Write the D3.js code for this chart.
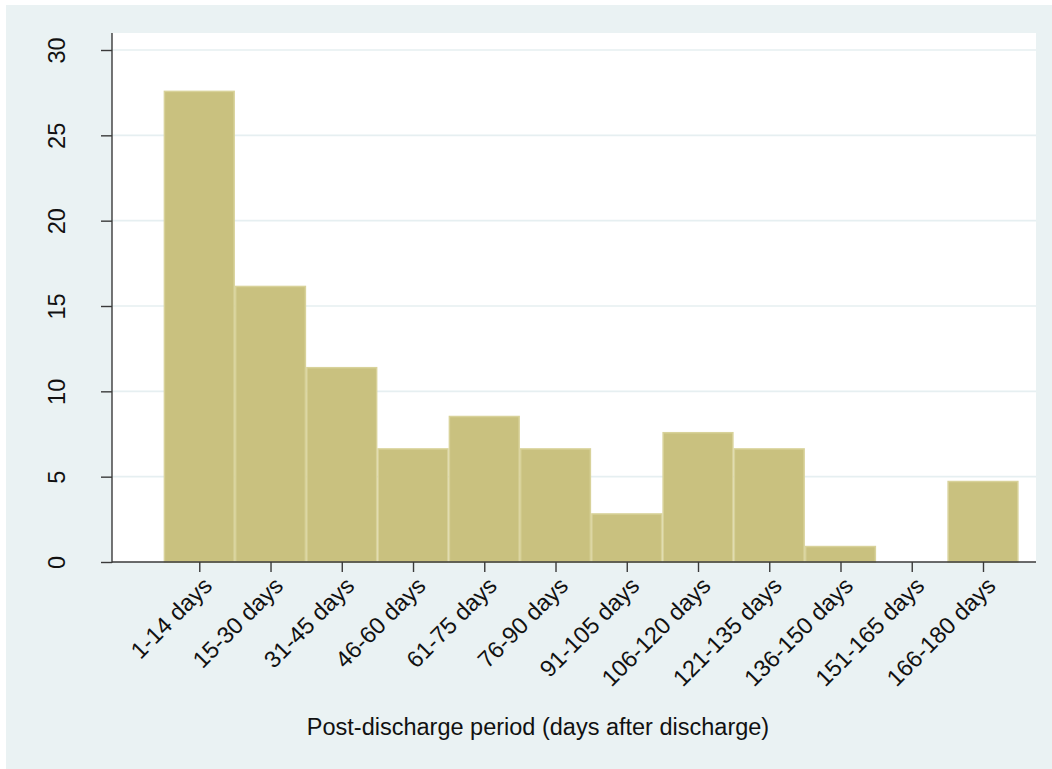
<!DOCTYPE html>
<html>
<head>
<meta charset="utf-8">
<script src="https://cdn.jsdelivr.net/npm/d3@7"></script>
<style>
  html, body { margin: 0; padding: 0; background: #ffffff; }
  svg { display: block; }
  text { font-family: "Liberation Sans", Arial, Helvetica, sans-serif; fill: #111; }
</style>
</head>
<body>
<svg id="chart" width="1052" height="769"></svg>
<script>
const categories = ["1-14 days","15-30 days","31-45 days","46-60 days","61-75 days","76-90 days",
  "91-105 days","106-120 days","121-135 days","136-150 days","151-165 days","166-180 days"];
const percents = [27.62, 16.19, 11.43, 6.67, 8.57, 6.67, 2.86, 7.62, 6.67, 0.95, 0, 4.76];
const yTicks = [0, 5, 10, 15, 20, 25, 30];
const xTitle = "Post-discharge period (days after discharge)";

const svg = d3.select("#chart");
const W = 1052, H = 769;
const plot = { left: 112, right: 1036, top: 33, bottom: 562 };

// outer graph region
svg.append("rect").attr("x", 6).attr("y", 5).attr("width", W - 6).attr("height", H - 5)
  .attr("fill", "#eaf2f3");
// plot region
svg.append("rect").attr("x", plot.left).attr("y", plot.top)
  .attr("width", plot.right - plot.left).attr("height", plot.bottom - plot.top)
  .attr("fill", "#ffffff");

const x = d3.scaleLinear().domain([-1.225, 11.744]).range([plot.left, plot.right]);
const y = d3.scaleLinear().domain([0, 30]).range([plot.bottom, 50]);

// gridlines
svg.append("g").selectAll("line").data(yTicks.filter(d => d > 0)).join("line")
  .attr("x1", plot.left).attr("x2", plot.right)
  .attr("y1", d => y(d)).attr("y2", d => y(d))
  .attr("stroke", "#e6eff1").attr("stroke-width", 1.6);

// bars
svg.append("g").selectAll("rect").data(percents.map((v, i) => ({ v, i })).filter(d => d.v > 0)).join("rect")
  .attr("x", d => x(d.i - 0.5) + 0.75)
  .attr("width", d => x(d.i + 0.5) - x(d.i - 0.5) - 1.5)
  .attr("y", d => y(d.v) + 0.75)
  .attr("height", d => y(0) - y(d.v) - 0.75)
  .attr("fill", "#c9c17f")
  .attr("stroke", "#d8d29a").attr("stroke-width", 1.5);

// y axis
const yAxis = d3.axisLeft(y).tickValues(yTicks).tickSize(11).tickPadding(0).tickFormat(d3.format("d"));
const gy = svg.append("g").attr("transform", `translate(${plot.left},0)`).call(yAxis);
gy.select(".domain").remove();
gy.selectAll(".tick line").attr("stroke", "#3a3a3a").attr("stroke-width", 1.4);
gy.selectAll(".tick text")
  .attr("x", 0).attr("dy", null)
  .attr("transform", "translate(-55,0) rotate(-90)")
  .attr("text-anchor", "middle").attr("dominant-baseline", "central")
  .style("font-size", "23.5px").style("font-family", "'Liberation Sans', Arial, sans-serif").attr("fill", "#111");
svg.append("line").attr("x1", plot.left).attr("x2", plot.left)
  .attr("y1", plot.top).attr("y2", plot.bottom + 0.7)
  .attr("stroke", "#3a3a3a").attr("stroke-width", 1.4);

// x axis
const xAxis = d3.axisBottom(x).tickValues(d3.range(categories.length)).tickSize(10).tickPadding(0)
  .tickFormat(i => categories[i]);
const gx = svg.append("g").attr("transform", `translate(0,${plot.bottom})`).call(xAxis);
gx.select(".domain").remove();
gx.selectAll(".tick line").attr("stroke", "#3a3a3a").attr("stroke-width", 1.4);
gx.selectAll(".tick text")
  .attr("y", 0).attr("dy", null)
  .attr("transform", "translate(8,19.5) rotate(-45)")
  .attr("text-anchor", "end").attr("dominant-baseline", "central")
  .style("font-size", "23.5px").style("font-family", "'Liberation Sans', Arial, sans-serif").attr("fill", "#111");
svg.append("line").attr("x1", plot.left).attr("x2", plot.right)
  .attr("y1", plot.bottom).attr("y2", plot.bottom)
  .attr("stroke", "#3a3a3a").attr("stroke-width", 1.4);

// x title
svg.append("text").attr("x", 538).attr("y", 735)
  .attr("text-anchor", "middle")
  .style("font-size", "23.5px")
  .text(xTitle);
</script>
</body>
</html>
